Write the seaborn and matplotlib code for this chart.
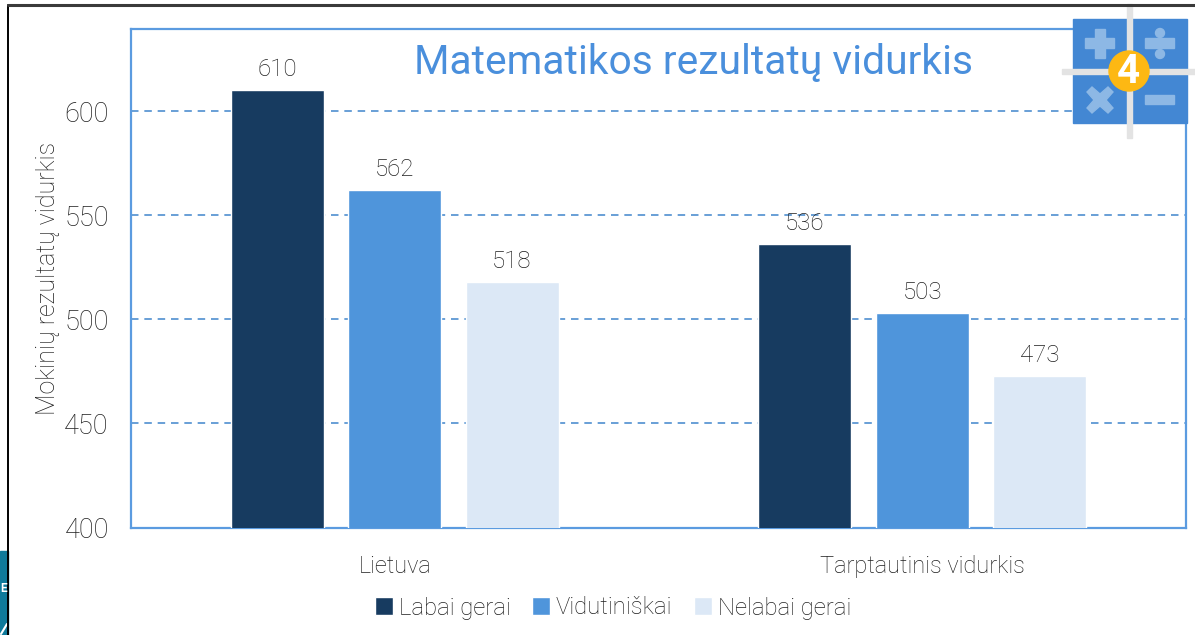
import matplotlib
matplotlib.use("Agg")
import matplotlib.pyplot as plt
from matplotlib.patches import Rectangle, Circle, Polygon
import pandas as pd
import seaborn as sns

groups = ["Lietuva", "Tarptautinis vidurkis"]
levels = ["Labai gerai", "Vidutiniškai", "Nelabai gerai"]
labai_gerai = [610, 536]
vidutiniskai = [562, 503]
nelabai_gerai = [518, 473]
colors = ["#173B60", "#4F95DB", "#DCE8F6"]
yticks = [400, 450, 500, 550, 600]
title = "Matematikos rezultatų vidurkis"
ylabel = "Mokinių rezultatų vidurkis"

df = pd.DataFrame({
    "group": groups * 3,
    "level": [levels[0]] * 2 + [levels[1]] * 2 + [levels[2]] * 2,
    "value": labai_gerai + vidutiniskai + nelabai_gerai,
})

sns.set_theme(style="white")
plt.rcParams["font.family"] = ["Roboto", "DejaVu Sans"]
plt.rcParams["font.weight"] = "light"
W, H = 1195, 635
ink = "#1F1F1F"
fig = plt.figure(figsize=(W / 100, H / 100), dpi=100, facecolor="white")
L, R, T, B = 131, 1186, 29, 527.5
ax = fig.add_axes([L / W, 1 - B / H, (R - L) / W, (B - T) / H])

sns.barplot(data=df, x="group", y="value", hue="level", hue_order=levels,
            palette=colors, width=0.667, gap=0.207, saturation=1, ax=ax, zorder=3)
ax.set_xlim(-0.5, 1.5)
ax.set_ylim(400, 639.5)
ax.set_yticks(yticks)
ax.set_xlabel("")
ax.set_ylabel(ylabel, fontsize=18, color=ink, labelpad=3, fontweight="light")
ax.tick_params(axis="y", labelsize=19.5, labelcolor=ink, length=0, pad=16)
ax.tick_params(axis="x", labelsize=17, labelcolor=ink, length=0, pad=20)
ax.grid(axis="y", color="#4F8FD0", linestyle=(0, (4.5, 3.5)), linewidth=1.2, zorder=1)
ax.set_axisbelow(True)
for s in ax.spines.values():
    s.set_color("#5B9BE0")
    s.set_linewidth(1.6)
for c in ax.containers:
    ax.bar_label(c, padding=6.5, fontsize=17.3, color=ink)

ax.text((694 - L) / (R - L), 0.9325, title, transform=ax.transAxes, ha="center", va="center",
        fontsize=29.3, color="#4A8FDC", fontweight="normal")

handles, labels = ax.get_legend_handles_labels()
ax.legend(handles, labels, loc="center", bbox_to_anchor=(613 / W, 1 - 608 / H),
          bbox_transform=fig.transFigure, ncol=3, frameon=False, fontsize=17.2,
          labelcolor=ink, handlelength=0.75, handleheight=0.75,
          handletextpad=0.25, columnspacing=0.9, borderpad=0)

# decorations in pixel coordinates
o = fig.add_axes([0, 0, 1, 1], zorder=10)
o.set_xlim(0, W)
o.set_ylim(H, 0)
o.axis("off")
o.patch.set_alpha(0)
o.add_patch(Rectangle((0, 551), 8, 84, color="#0E7A9B"))
o.text(0.5, 588, "E", ha="left", va="center", fontsize=8.5, fontweight="bold", color="white")
o.plot([1, 7], [634, 624], color="white", lw=1.5)
o.plot([8, 8], [5, 635], color="black", lw=1.4)
o.plot([8, 1195], [5, 5], color="#3A3A3A", lw=2.2)
# icon
blue, pale, grey = "#4387D3", "#8DB8E5", "#E3E3E3"
o.add_patch(Rectangle((1073, 19), 114, 104, color=blue))
o.add_patch(Rectangle((1062, 69), 133, 5, color=grey))
o.add_patch(Rectangle((1127, 4), 5, 134, color=grey))
o.add_patch(Rectangle((1085, 38), 29, 10, color=pale))
o.add_patch(Rectangle((1095, 29), 10, 29, color=pale))
o.add_patch(Rectangle((1145, 38), 29, 10, color=pale))
o.add_patch(Circle((1160, 33), 4.5, color=pale))
o.add_patch(Circle((1160, 54), 4.5, color=pale))
o.add_patch(Rectangle((1145, 95), 29, 9, color=pale))
o.add_patch(Polygon([(1092, 87), (1100, 94), (1108, 87), (1113, 92), (1106, 100), (1113, 108),
                     (1108, 113), (1100, 106), (1092, 113), (1087, 108), (1094, 100), (1087, 92)],
                    color=pale))
o.add_patch(Circle((1129, 71), 20, color="#FDB813"))
o.text(1128, 72, "4", ha="center", va="center", fontsize=29, fontweight="bold", color="white")

fig.savefig("out.png", dpi=100, facecolor="white")
